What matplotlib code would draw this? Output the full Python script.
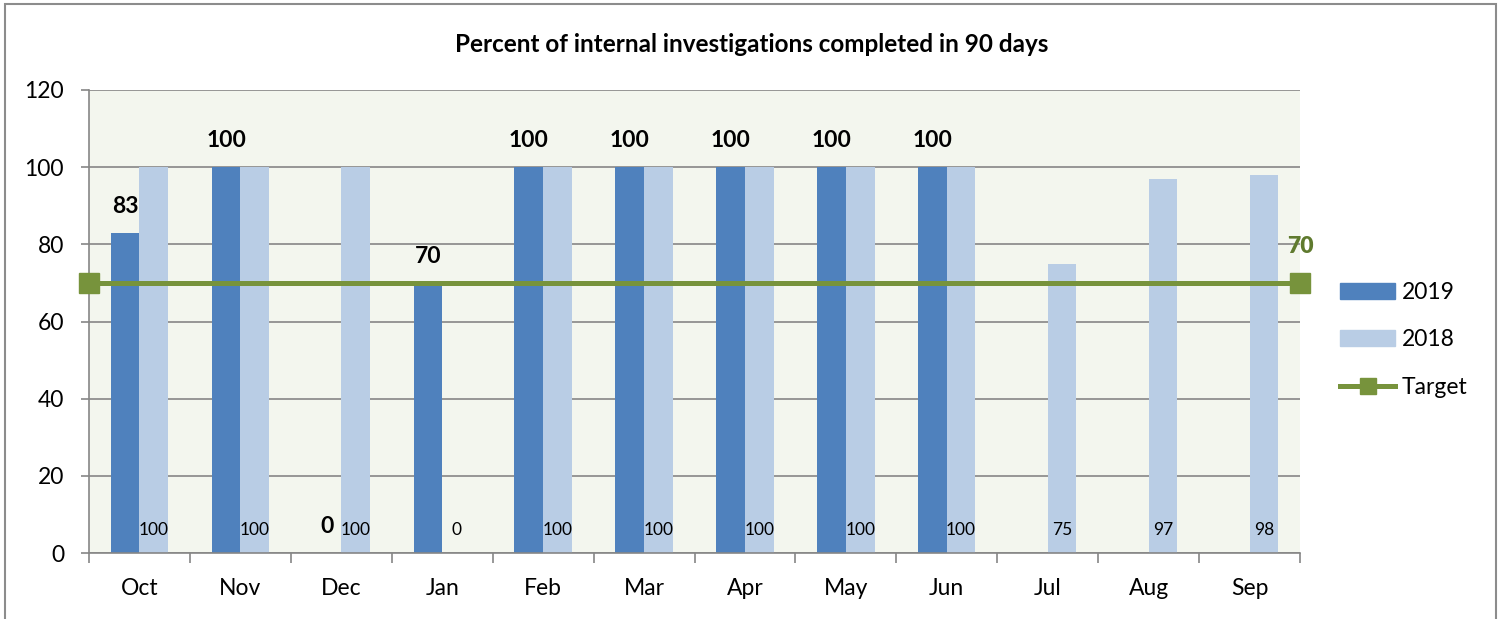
import matplotlib
matplotlib.use("Agg")
import matplotlib.pyplot as plt
import numpy as np
from matplotlib.lines import Line2D
from matplotlib.patches import Patch, Rectangle

plt.rcParams["font.family"] = ["Lato", "DejaVu Sans"]

# data
months = ["Oct", "Nov", "Dec", "Jan", "Feb", "Mar", "Apr", "May", "Jun",
          "Jul", "Aug", "Sep"]
pct_2019 = [83, 100, 0, 70, 100, 100, 100, 100, 100, np.nan, np.nan, np.nan]
pct_2018 = [100, 100, 100, 0, 100, 100, 100, 100, 100, 75, 97, 98]
target = [70, 70]
title = "Percent of internal investigations completed in 90 days"

C2019 = "#4F81BD"
C2018 = "#B9CDE5"
CTARGET = "#77933C"
GRID = "#868686"

W, H, DPI = 1504, 619, 100
fig = plt.figure(figsize=(W / DPI, H / DPI), dpi=DPI)
ax = fig.add_axes([89 / W, 1 - 553 / H, (1300 - 89) / W, (553 - 90) / H])
ax.set_facecolor("#F3F6EE")

x = np.arange(len(months))
bw = 0.284
ax.bar(x - bw / 2, pct_2019, bw, color=C2019, zorder=2, label="2019")
ax.bar(x + bw / 2, pct_2018, bw, color=C2018, zorder=2, label="2018")

for xi, v in zip(x - bw / 2, pct_2019):
    if np.isnan(v):
        continue
    ax.annotate(f"{v:.0f}", (xi, v), xytext=(0, 19), textcoords="offset points",
                ha="center", va="center", fontsize=16.5, fontweight="bold",
                zorder=5)
for xi, v in zip(x + bw / 2, pct_2018):
    ax.annotate(f"{v:.0f}", (xi, 0), xytext=(0, 16.5), textcoords="offset points",
                ha="center", va="center", fontsize=12.5, zorder=5)

ax.set_xlim(-0.5, len(months) - 0.5)
ax.set_ylim(0, 120)
ax.set_yticks(np.arange(0, 121, 20))
ax.yaxis.grid(True, color=GRID, linewidth=1.2, zorder=0)
ax.set_axisbelow(True)
ax.set_xticks(x)
ax.set_xticklabels(months)
ax.set_xticks(np.arange(-0.5, len(months), 1), minor=True)
ax.tick_params(axis="x", which="major", length=0, pad=18, labelsize=16.5)
ax.tick_params(axis="x", which="minor", length=7, width=1.2, color=GRID,
               direction="out")
ax.tick_params(axis="y", length=6, width=1.2, color=GRID, pad=12,
               labelsize=16.5)
for side in ("top", "right"):
    ax.spines[side].set_visible(False)
for side in ("left", "bottom"):
    ax.spines[side].set_color(GRID)
    ax.spines[side].set_linewidth(1.2)

# target line sits on its own x scale, end to end across the plot area
ax2 = ax.twiny()
ax2.plot([0, 1], target, color=CTARGET, linewidth=3.6, marker="s",
         markersize=14, clip_on=False, zorder=4)
ax2.set_xlim(0, 1)
ax2.set_ylim(0, 120)
ax2.axis("off")
ax2.annotate(f"{target[-1]}", (1, target[-1]), xytext=(0, 26),
             textcoords="offset points", ha="center", va="center",
             fontsize=16.5, fontweight="heavy", color="#5F7A2E")

handles = [Patch(color=C2019), Patch(color=C2018),
           Line2D([], [], color=CTARGET, linewidth=3.6, marker="s",
                  markersize=12)]
fig.legend(handles, ["2019", "2018", "Target"], loc="center left",
           bbox_to_anchor=(1340 / W, 1 - 340 / H), frameon=False,
           fontsize=16.5, handlelength=2.4, handleheight=0.7,
           handletextpad=0.3, labelspacing=1.15, borderpad=0,
           borderaxespad=0)

fig.text(0.5, 1 - 44 / H, title, ha="center", va="center", fontsize=17.5,
         fontweight="bold")

fig.add_artist(Rectangle((5 / W, -0.05), (1496 - 5) / W, 1.05 - 4 / H,
                         transform=fig.transFigure, fill=False,
                         edgecolor="#8C8C8C", linewidth=1.5))

fig.savefig("out.png", dpi=DPI)
